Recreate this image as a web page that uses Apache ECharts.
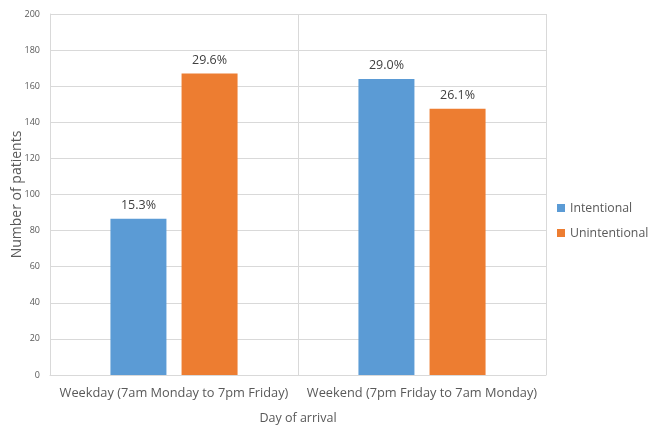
<!DOCTYPE html>
<html>
<head>
<meta charset="utf-8">
<script src="https://cdn.jsdelivr.net/npm/echarts@6/dist/echarts.min.js"></script>
<style>
  html, body { margin: 0; padding: 0; background: #fff; }
  #chart { width: 654px; height: 425px; }
</style>
</head>
<body>
<div id="chart"></div>
<script>
const categories = ['Weekday (7am Monday to 7pm Friday)', 'Weekend (7pm Friday to 7am Monday)']
const intentional = [86.5, 164]
const unintentional = [167, 147.5]
const intentionalLabels = ['15.3%', '29.0%']
const unintentionalLabels = ['29.6%', '26.1%']

const font = 'Open Sans'
const textColor = '#595959'
const lineColor = '#d9d9d9'

const chart = echarts.init(document.getElementById('chart'), null, { renderer: 'canvas' })

chart.setOption({
  backgroundColor: '#fff',
  animation: false,
  textStyle: { fontFamily: font },
  grid: { left: 50, right: 108, top: 14, bottom: 50, containLabel: false, outerBoundsMode: 'none' },
  legend: {
    orient: 'vertical',
    left: 557,
    top: 202,
    padding: 0,
    itemWidth: 8,
    itemHeight: 8,
    itemGap: 13,
    icon: 'rect',
    textStyle: { color: textColor, fontSize: 12.3, fontFamily: font, overflow: 'none' },
    data: ['Intentional', 'Unintentional'],
  },
  xAxis: {
    type: 'category',
    data: categories,
    name: 'Day of arrival',
    nameLocation: 'middle',
    nameGap: 37,
    nameMoveOverlap: false,
    nameTextStyle: { color: textColor, fontSize: 12.5 },
    axisLine: { lineStyle: { color: lineColor } },
    axisTick: { show: false },
    axisLabel: { color: textColor, fontSize: 12.8, margin: 12, interval: 0 },
    splitLine: { show: true, interval: 0, lineStyle: { color: lineColor } },
  },
  yAxis: {
    type: 'value',
    min: 0, max: 200, interval: 20,
    name: 'Number of patients',
    nameLocation: 'middle',
    nameGap: 26,
    nameMoveOverlap: false,
    nameTextStyle: { color: textColor, fontSize: 14 },
    axisLine: { show: true, lineStyle: { color: lineColor } },
    axisTick: { show: false },
    axisLabel: { color: textColor, fontSize: 9, margin: 10 },
    splitLine: { lineStyle: { color: lineColor } },
  },
  series: [
    {
      name: 'Intentional',
      type: 'bar',
      data: intentional,
      barWidth: 56,
      barGap: '27%',
      itemStyle: { color: '#5b9bd5' },
      label: {
        show: true,
        position: 'top',
        distance: 7,
        color: '#404040',
        fontSize: 12.5,
        formatter: p => intentionalLabels[p.dataIndex],
      },
    },
    {
      name: 'Unintentional',
      type: 'bar',
      data: unintentional,
      barWidth: 56,
      itemStyle: { color: '#ed7d31' },
      label: {
        show: true,
        position: 'top',
        distance: 7,
        color: '#404040',
        fontSize: 12.5,
        formatter: p => unintentionalLabels[p.dataIndex],
      },
    },
  ],
})
</script>
</body>
</html>
